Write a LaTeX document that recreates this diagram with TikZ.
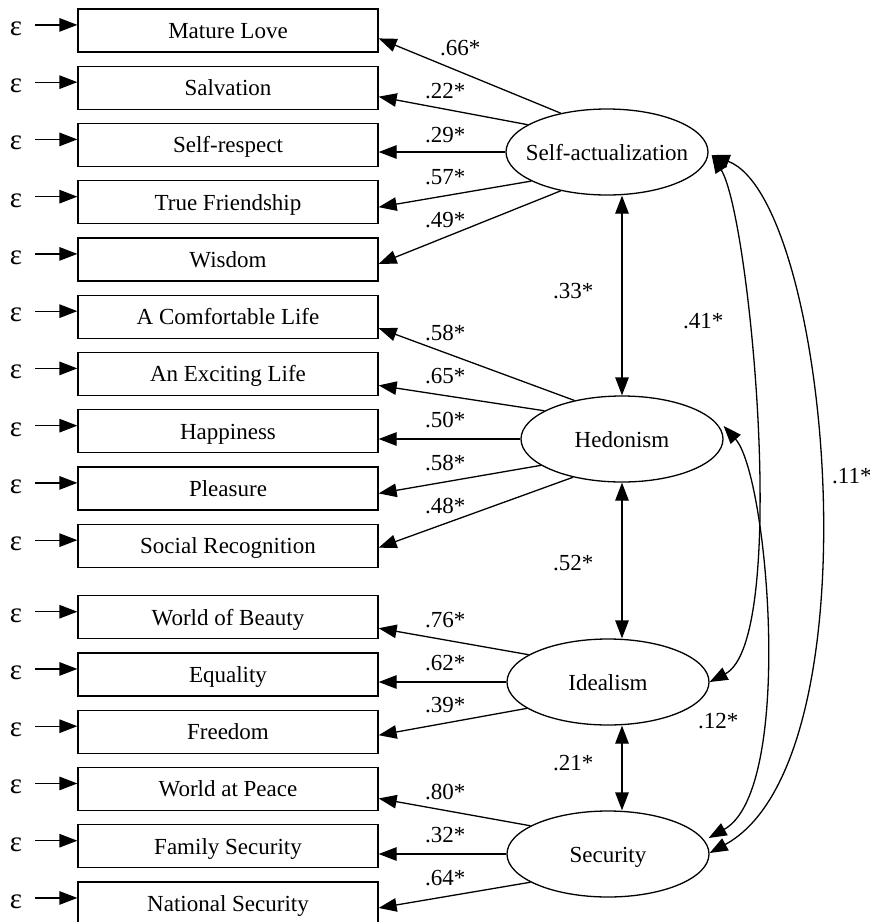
\documentclass[tikz,border=0pt]{standalone}
\usepackage{fontspec}
\setmainfont{Liberation Serif}
\usetikzlibrary{arrows.meta,shapes.geometric,calc}
\begin{document}
\begin{tikzpicture}[x=1pt,y=-1pt,
  font=\fontsize{23}{27}\selectfont,
  >={Triangle[length=18pt,width=13.5pt]},
  obs/.style={draw,line width=1.3pt,minimum width=300pt,minimum height=43pt,
    inner sep=0pt,text height=16pt,text depth=0pt},
  latent/.style={draw,ellipse,line width=1.3pt,minimum width=202pt,
    minimum height=86pt,inner sep=0pt},
  lname/.style={inner sep=0pt,text height=16pt,text depth=0pt},
  err/.style={inner ysep=0pt,inner xsep=13pt,text height=21pt,text depth=0pt,
    font=\fontsize{29}{30}\selectfont},
  coef/.style={inner sep=0pt,anchor=base west},
  load/.style={->,line width=1.3pt},
  cov/.style={<->,line width=1.3pt}]

\useasboundingbox (0,0) rectangle (870,922);

% observed indicators
\node[obs] (b1)  at (228,30.4)   {Mature Love};
\node[obs] (b2)  at (228,87.65)  {Salvation};
\node[obs] (b3)  at (228,144.9)  {Self-respect};
\node[obs] (b4)  at (228,202.15) {True Friendship};
\node[obs] (b5)  at (228,259.4)  {Wisdom};
\node[obs] (b6)  at (228,316.65) {A Comfortable Life};
\node[obs] (b7)  at (228,373.9)  {An Exciting Life};
\node[obs] (b8)  at (228,431.15) {Happiness};
\node[obs] (b9)  at (228,488.4)  {Pleasure};
\node[obs] (b10) at (228,545.65) {Social Recognition};
\node[obs] (b11) at (228,617.2)  {World of Beauty};
\node[obs] (b12) at (228,674.45) {Equality};
\node[obs] (b13) at (228,731.7)  {Freedom};
\node[obs] (b14) at (228,788.95) {World at Peace};
\node[obs] (b15) at (228,846.2)  {Family Security};
\node[obs] (b16) at (228,903.45) {National Security};

% error terms
\foreach \i in {1,...,16}{
  \node[err] (e\i) at ($(b\i.center)+(-212,-5.5)$) {ε};
  \draw[load] (e\i.east) -- (e\i.east -| b\i.west);
}

% latent factors
\node[latent] (sa) at (607,152) {};
\node[lname] (sat) at (sa) {Self-actualization};
\node[latent] (he) at (622,439) {};
\node[lname] (het) at (he) {Hedonism};
\node[latent] (id) at (608,682) {};
\node[lname] (idt) at (id) {Idealism};
\node[latent] (se) at (608,854) {};
\node[lname] (set) at (se) {Security};

% factor loadings
\draw[load] (sa.140) -- ($(b1.east)+(0,8)$);
\draw[load] (sa.161) -- ($(b2.east)+(0,9)$);
\draw[load] (sa.west) -- (sa.west -| b3.east);
\draw[load] (sa.201) -- ($(b4.east)+(0,5)$);
\draw[load] (sa.220) -- ($(b5.east)+(0,4.5)$);
\draw[load] (he.141.5) -- ($(b6.east)+(0,11.5)$);
\draw[load] (he.160.5) -- ($(b7.east)+(0,11.5)$);
\draw[load] (he.west) -- (he.west -| b8.east);
\draw[load] (he.198.4) -- ($(b9.east)+(0,5)$);
\draw[load] (he.218.5) -- ($(b10.east)+(0,2)$);
\draw[load] (id.161) -- ($(b11.east)+(0,11)$);
\draw[load] (id.west) -- (id.west -| b12.east);
\draw[load] (id.198.5) -- ($(b13.east)+(0,3.5)$);
\draw[load] (se.160) -- ($(b14.east)+(0,9.5)$);
\draw[load] (se.west) -- (se.west -| b15.east);
\draw[load] (se.200) -- ($(b16.east)+(0,4.5)$);

% loading coefficients
\node[coef] (c1)  at (440,55)  {.66*};
\node[coef] (c2)  at (425,98)  {.22*};
\node[coef] (c3)  at (425,142) {.29*};
\node[coef] (c4)  at (425,184) {.57*};
\node[coef] (c5)  at (425,227) {.49*};
\node[coef] (c6)  at (425,340) {.58*};
\node[coef] (c7)  at (425,383) {.65*};
\node[coef] (c8)  at (425,427) {.50*};
\node[coef] (c9)  at (425,470) {.58*};
\node[coef] (c10) at (425,513) {.48*};
\node[coef] (c11) at (425,627) {.76*};
\node[coef] (c12) at (425,670) {.62*};
\node[coef] (c13) at (425,712) {.39*};
\node[coef] (c14) at (425,799) {.80*};
\node[coef] (c15) at (425,842) {.32*};
\node[coef] (c16) at (425,885) {.64*};

% factor covariances
\draw[cov] (sa.south -| he.north) -- (he.north);
\draw[cov] (he.south) -- (id.north -| he.south);
\draw[cov] (id.south -| he.south) -- (se.north -| he.south);

\coordinate (saR) at ($(sa.east)+(3,3)$);
\coordinate (heR) at ($(he.east)+(0,-13)$);
\coordinate (seR1) at ($(se.east)+(-1,-16)$);
\coordinate (seR2) at ($(se.east)+(0,-1)$);
\draw[cov] (saR) .. controls (750,215) and (790,640) .. (id.east);
\draw[cov] (saR) .. controls (830,200) and (880,760) .. (seR2);
\draw[cov] (heR) .. controls (768,475) and (795,790) .. (seR1);

% covariance coefficients
\node[coef] (k1) at (553,298) {.33*};
\node[coef] (k2) at (683,328) {.41*};
\node[coef] (k3) at (832,483) {.11*};
\node[coef] (k4) at (553,570) {.52*};
\node[coef] (k5) at (553,770) {.21*};
\node[coef] (k6) at (698,728) {.12*};
\end{tikzpicture}
\end{document}
